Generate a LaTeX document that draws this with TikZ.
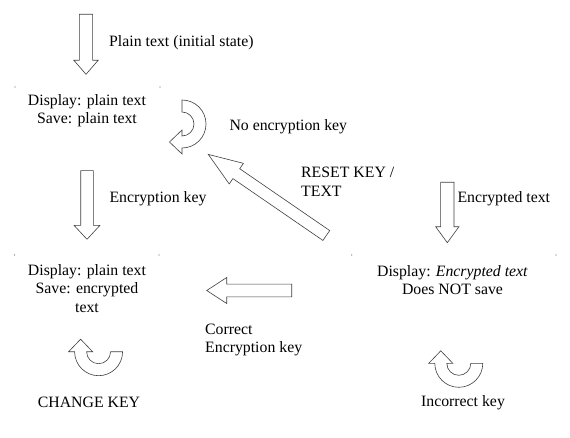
\documentclass[tikz,border=0pt]{standalone}
\usepackage{fontspec}
\setmainfont{Liberation Serif}
\tikzset{
  shapeline/.style={draw=black!75, line width=0.6pt, fill=white},
  lbl/.style={inner sep=0pt, font=\fontsize{15.8}{18.3}\selectfont},
  dotmark/.style={fill=black!60},
  pics/blockarrow/.style n args={4}{code={
    \path[shapeline] (0,{-(#2)/2}) -- ({#1-(#4)},{-(#2)/2}) -- ({#1-(#4)},{-(#3)/2}) -- (#1,0)
      -- ({#1-(#4)},{(#3)/2}) -- ({#1-(#4)},{(#2)/2}) -- (0,{(#2)/2}) -- cycle;
  }},
  pics/uturn/.style={code={
    \path[shapeline] (24,0) arc[start angle=0,end angle=-180,radius=24pt] -- (-30,0) -- (-18,12.5)
      -- (-6,0) -- (-12,0) arc[start angle=180,end angle=360,radius=12pt] -- cycle;
  }},
}
\begin{document}
\begin{tikzpicture}[x=1pt,y=1pt]
\useasboundingbox[fill=white] (0,0) rectangle (570,437);

% block arrows
\pic[rotate=-90] (arrA) at (86,422.7) {blockarrow={60}{13.3}{24.3}{14}};
\pic[rotate=-90] (arrB) at (87,266.3) {blockarrow={68.6}{12.6}{26}{14}};
\pic[rotate=-90] (arrC) at (447.3,254.7) {blockarrow={60.4}{13.3}{23.3}{16}};
\pic[rotate=180] (arrD) at (291.7,146.5) {blockarrow={85}{12.7}{26}{20}};
\pic[rotate=145.5] (arrE) at (326.3,201.5) {blockarrow={143.2}{12}{25}{34}};

% u-turn arrows
\pic[rotate=90] (u1) at (182,313) {uturn};
\pic (u2) at (98.6,85.3) {uturn};
\pic (u3) at (458.8,73.7) {uturn};

% corner dots of text boxes
\foreach \p in {(15,350),(160,350),(14.5,182),(159,182),(351.7,182),(556,182)}
  \fill[dotmark] \p circle (0.6pt);

% labels
\node[lbl, anchor=west] (tInit) at (109,394.3) {Plain text (initial state)};
\node[lbl, align=center] (sPlain) at (87,326.2) {Display: plain text\\Save: plain text};
\node[lbl, anchor=west] (tNoKey) at (229.3,310.3) {No encryption key};
\node[lbl, anchor=west] (tEncKey) at (109.3,238) {Encryption key};
\node[lbl, anchor=west, align=left] (tReset) at (301,255.2) {RESET KEY /\\TEXT};
\node[lbl, anchor=west] (tEncText) at (457.3,238.7) {Encrypted text};
\node[lbl, align=center] (sEnc) at (87,148.7) {Display: plain text\\Save: encrypted\\text};
\node[lbl, align=center] (sNoSave) at (452.5,157.2) {Display: \textit{Encrypted text}\\Does NOT save};
\node[lbl, anchor=west, align=left] (tCorrect) at (205,97) {Correct\\Encryption key};
\node[lbl] (tChange) at (89,35) {CHANGE KEY};
\node[lbl] (tIncorrect) at (463,34.7) {Incorrect key};
\end{tikzpicture}
\end{document}
